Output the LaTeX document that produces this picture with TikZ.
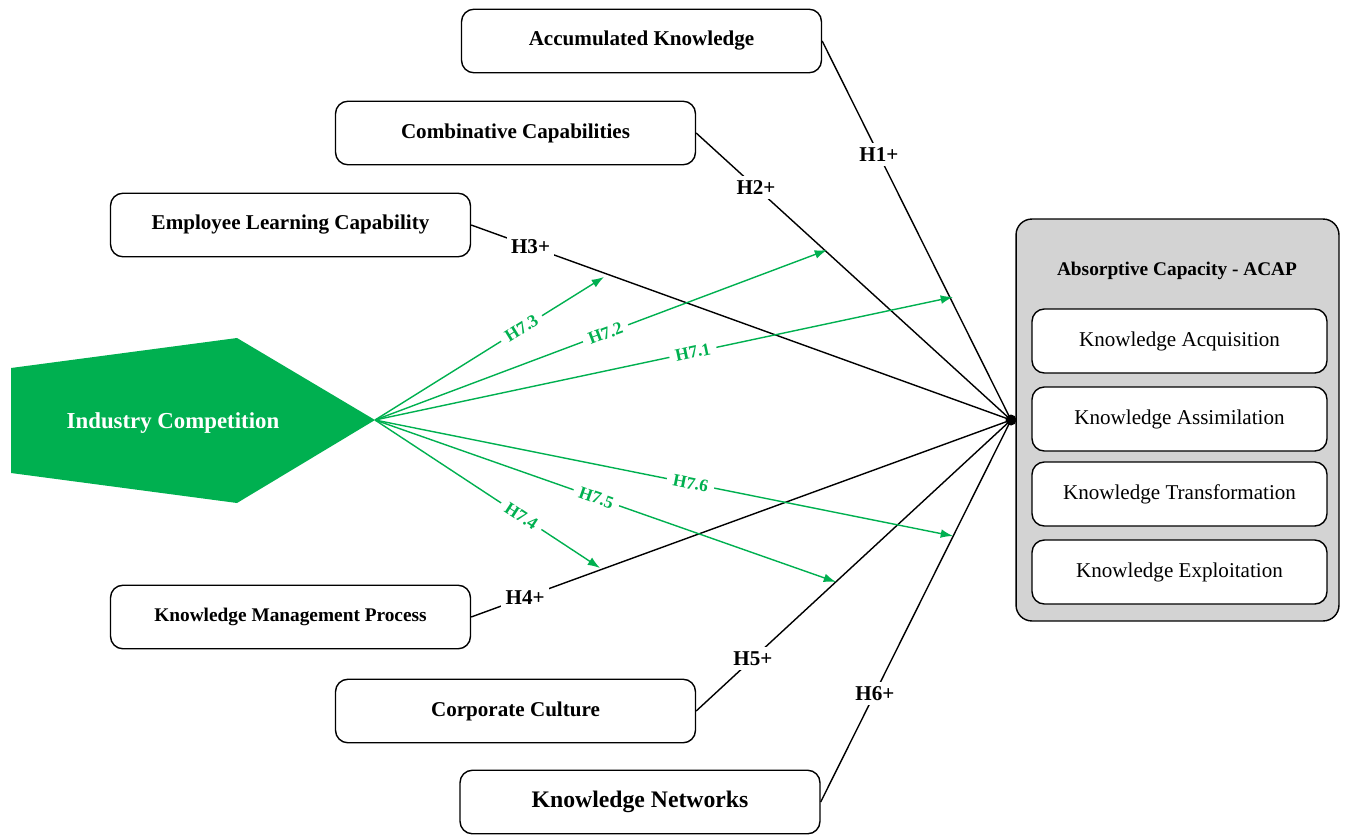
\documentclass[tikz,border=0pt]{standalone}
\usepackage{fontspec}
\setmainfont{Liberation Serif}
\usetikzlibrary{arrows.meta, positioning, calc}
\definecolor{compgreen}{RGB}{0, 176, 80}
\definecolor{acapgray}{RGB}{211, 211, 211}

\begin{document}
\begin{tikzpicture}[
  x=0.02cm, y=-0.02cm,
  factor/.style={draw, rounded corners=7pt, line width=0.8pt, minimum width=7.2cm, minimum height=1.27cm, align=center, font=\bfseries\fontsize{12}{14}\selectfont},
  dimbox/.style={draw, fill=white, rounded corners=7pt, line width=0.8pt, minimum width=5.9cm, minimum height=1.28cm, font=\fontsize{12}{14}\selectfont},
  hyp/.style={fill=white, inner sep=2.5pt, font=\bfseries\fontsize{12}{14}\selectfont},
  glabel/.style={fill=white, inner sep=3.5pt, sloped, text=compgreen, font=\bfseries\fontsize{10}{12}\selectfont},
  link/.style={line width=0.8pt},
  effect/.style={compgreen, line width=0.8pt, -{Latex[length=7pt, width=5pt]}}
]
  \useasboundingbox (0,0) rectangle (1348,835);

  % Determinants
  \node[factor] (accum) at (641.5, 41) {Accumulated Knowledge};
  \node[factor] (combi) at (515.5, 133) {Combinative Capabilities};
  \node[factor] (elc) at (290.5, 225) {Employee Learning Capability};
  \node[factor, font=\bfseries\fontsize{11}{13}\selectfont] (kmp) at (290.5, 617) {Knowledge Management Process};
  \node[factor] (culture) at (515.5, 711) {Corporate Culture};
  \node[factor, font=\bfseries\fontsize{13.5}{16}\selectfont] (networks) at (640, 802) {Knowledge Networks};

  % Moderator
  \fill[compgreen] (11,368) -- (237,338) -- (375,420) -- (237,503) -- (11,473) -- cycle;
  \node[text=white, font=\bfseries\fontsize{13}{15}\selectfont] (comp) at (173, 423) {Industry Competition};
  \coordinate (tip) at (375, 420);

  % Absorptive capacity
  \node[draw, fill=acapgray, rounded corners=9pt, line width=0.8pt, minimum width=6.46cm, minimum height=8.04cm] (acap) at (1177.5, 420) {};
  \node[font=\bfseries\fontsize{11}{13}\selectfont] (acaptitle) at (1177, 271) {Absorptive Capacity - ACAP};
  \node[dimbox] (acq) at (1179.5, 341) {Knowledge Acquisition};
  \node[dimbox] (assim) at (1179.5, 419) {Knowledge Assimilation};
  \node[dimbox] (transf) at (1179.5, 494) {Knowledge Transformation};
  \node[dimbox] (exploit) at (1179.5, 572) {Knowledge Exploitation};
  \node[circle, fill=black, minimum size=0.22cm, inner sep=0pt] (hub) at (1011, 420) {};

  % Direct effects
  \draw[link] (accum.east) -- node[hyp, pos=0.30] {H1+} (hub.center);
  \draw[link] (combi.east) -- node[hyp, pos=0.19] {H2+} (hub.center);
  \draw[link] (elc.east) -- node[hyp, pos=0.11] {H3+} (hub.center);
  \draw[link] (kmp.east) -- node[hyp, pos=0.10] {H4+} (hub.center);
  \draw[link] (culture.east) -- node[hyp, pos=0.18] {H5+} (hub.center);
  \draw[link] (networks.east) -- node[hyp, pos=0.285] {H6+} (hub.center);

  % Moderating effects
  \coordinate (e71) at (953, 297);
  \coordinate (e72) at (827, 250);
  \coordinate (e73) at (604, 277);
  \coordinate (e74) at (600, 568);
  \coordinate (e75) at (836, 582);
  \coordinate (e76) at (953, 536);
  \draw[effect] (tip) -- node[glabel, pos=0.55] {H7.1} (e71);
  \draw[effect] (tip) -- node[glabel, pos=0.51] {H7.2} (e72);
  \draw[effect] (tip) -- node[glabel, pos=0.64] {H7.3} (e73);
  \draw[effect] (tip) -- node[glabel, pos=0.65] {H7.4} (e74);
  \draw[effect] (tip) -- node[glabel, pos=0.48] {H7.5} (e75);
  \draw[effect] (tip) -- node[glabel, pos=0.546] {H7.6} (e76);
\end{tikzpicture}
\end{document}
